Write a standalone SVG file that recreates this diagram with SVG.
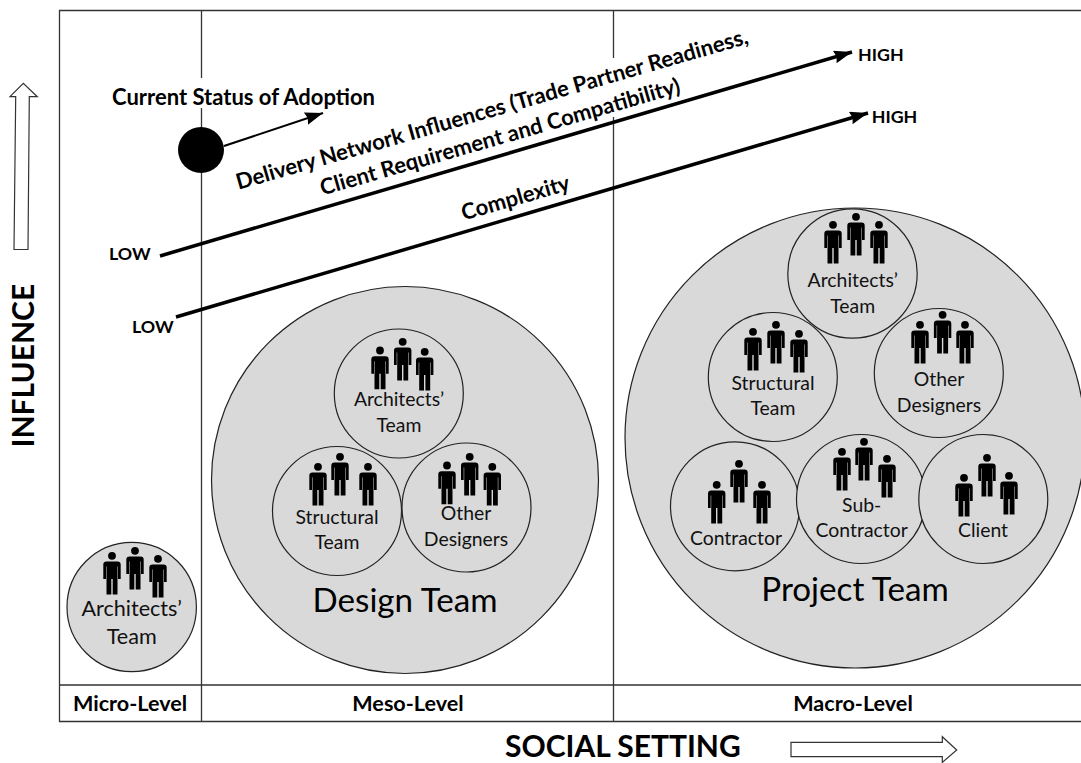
<svg xmlns="http://www.w3.org/2000/svg" width="1081" height="763" viewBox="0 0 1081 763">
<style>
text{font-family:"Lato","Carlito","Liberation Sans",sans-serif;fill:#000}
.b{font-weight:700}
.lvl{font-size:21.6px;font-weight:700;text-anchor:middle}
.lab{font-size:19.4px;text-anchor:middle;fill:#111}
.labm{font-size:21.6px;text-anchor:middle;fill:#111}
.big{font-size:33.2px;text-anchor:middle}
.hl{font-size:17.8px;font-weight:700}
.rot{font-size:22px;font-weight:700;text-anchor:middle}
.ax{font-size:30px;font-weight:700}
.c{fill:#d9d9d9;stroke:#222;stroke-width:1.2}
.f{stroke:#333;stroke-width:1.3;fill:none}
.ln{stroke:#000;fill:none}
.ho{fill:#fff;stroke:#333;stroke-width:1.2}
</style>
<defs>
<marker id="ah" markerUnits="userSpaceOnUse" markerWidth="20" markerHeight="14" refX="18" refY="6.5" orient="auto"><path d="M0,0L18,6.5L0,13L2,6.5z" fill="#000"/></marker>
<g id="p"><circle cx="0" cy="3.8" r="3.9" fill="#000"/><path d="M-5.5,9.5H5.5Q8.7,9.5 8.7,12.5V27H6V14.5H5.5V42.5H.7V27H-.7V42.5H-5.5V14.5H-6V27H-8.7V12.5Q-8.7,9.5 -5.5,9.5z" fill="#000"/></g>
</defs>
<rect width="1081" height="763" fill="#fff"/>
<g id="frame">
<path class="f" d="M1081,10.5H59.5V721.5H1081M59.5,685H1081M201.5,10.5V721.5M613.5,10.5V721.5"/>
</g>
<g id="connectors">
<rect x="108" y="78" width="272" height="30" fill="#fff"/>
<rect x="610" y="58" width="7" height="59" fill="#fff"/>
<path class="ln" stroke-width="2" marker-end="url(#ah)" d="M224,146L323,113"/>
<path class="ln" stroke-width="3.5" marker-end="url(#ah)" d="M160,256L852,52"/>
<path class="ln" stroke-width="3.5" marker-end="url(#ah)" d="M176,317L868,113"/>
<path class="ho" d="M14,249.5L15.7,96.7H10L23.3,83.3L37.3,96.7H29.3L28,249.5z"/>
<path class="ho" d="M791,742.3H942.3V736.7L956.7,750L942.3,762.4V756.7H791z"/>
</g>
<g id="status"><circle cx="201" cy="150" r="23" fill="#000"/><text x="112" y="105" class="b" font-size="22">Current Status of Adoption</text></g>
<g id="axis-labels">
<text x="505" y="757" class="ax">SOCIAL SETTING</text>
<text transform="translate(34,447.5) rotate(-90)" class="ax">INFLUENCE</text>
</g>
<g id="levels">
<text x="130" y="710.7" class="lvl">Micro-Level</text>
<text x="408" y="710.7" class="lvl">Meso-Level</text>
<text x="853" y="710.7" class="lvl">Macro-Level</text>
</g>
<g id="trend-labels">
<text x="109" y="260" class="hl">LOW</text>
<text x="132" y="333" class="hl">LOW</text>
<text x="858" y="61" class="hl">HIGH</text>
<text x="871.7" y="123" class="hl">HIGH</text>
<text transform="translate(494,116.5) rotate(-16)" class="rot">Delivery Network Influences (Trade Partner Readiness,</text>
<text transform="translate(502,144) rotate(-16)" class="rot">Client Requirement and Compatibility)</text>
<text transform="translate(517.5,205) rotate(-16)" class="rot">Complexity</text>
</g>
<g id="micro-architects"><circle class="c" cx="131.7" cy="607" r="64.7"/>
<use href="#p" x="112" y="552"/><use href="#p" x="135" y="547"/><use href="#p" x="158" y="555"/>
<text class="labm" x="131.7" y="616">Architects’</text><text class="labm" x="131.7" y="644">Team</text></g>
<g id="design-team"><circle class="c" cx="405" cy="480" r="193.5"/>
<text class="big" x="405" y="612">Design Team</text></g>
<g id="design-architects"><circle class="c" cx="398.8" cy="393.5" r="64.5"/>
<use href="#p" x="380" y="346.7"/><use href="#p" x="402.7" y="338"/><use href="#p" x="424.7" y="348"/>
<text class="lab" x="399" y="406">Architects’</text><text class="lab" x="399" y="431.7">Team</text></g>
<g id="design-structural"><circle class="c" cx="337" cy="511" r="64.5"/>
<use href="#p" x="318" y="463"/><use href="#p" x="340" y="453"/><use href="#p" x="368" y="463"/>
<text class="lab" x="337" y="524">Structural</text><text class="lab" x="337" y="549">Team</text></g>
<g id="design-other"><circle class="c" cx="466.5" cy="507.5" r="64.5"/>
<use href="#p" x="447" y="461.7"/><use href="#p" x="469.7" y="453"/><use href="#p" x="492.3" y="463"/>
<text class="lab" x="466" y="520">Other</text><text class="lab" x="466" y="546">Designers</text></g>
<g id="project-team"><circle class="c" cx="855" cy="438" r="230"/>
<text class="big" x="855" y="601">Project Team</text></g>
<g id="project-architects"><circle class="c" cx="852.5" cy="273.5" r="64.7"/>
<use href="#p" x="833" y="221"/><use href="#p" x="856" y="213"/><use href="#p" x="879" y="221"/>
<text class="lab" x="852.7" y="287">Architects’</text><text class="lab" x="852.7" y="312.7">Team</text></g>
<g id="project-structural"><circle class="c" cx="772.8" cy="377" r="64.5"/>
<use href="#p" x="753" y="328"/><use href="#p" x="776" y="321"/><use href="#p" x="799" y="330"/>
<text class="lab" x="773" y="390">Structural</text><text class="lab" x="773" y="415">Team</text></g>
<g id="project-other"><circle class="c" cx="938.8" cy="373" r="64.5"/>
<use href="#p" x="920" y="321"/><use href="#p" x="942.6" y="311"/><use href="#p" x="965" y="321"/>
<text class="lab" x="939" y="386">Other</text><text class="lab" x="939" y="411.7">Designers</text></g>
<g id="project-contractor"><circle class="c" cx="735" cy="506.3" r="64.5"/>
<use href="#p" x="716.7" y="481"/><use href="#p" x="739" y="460"/><use href="#p" x="762" y="481"/>
<text class="lab" x="736" y="545">Contractor</text></g>
<g id="project-subcontractor"><circle class="c" cx="861" cy="499" r="64.5"/>
<use href="#p" x="842" y="448"/><use href="#p" x="864" y="438"/><use href="#p" x="887" y="455"/>
<text class="lab" x="861.7" y="512">Sub-</text><text class="lab" x="861.7" y="537">Contractor</text></g>
<g id="project-client"><circle class="c" cx="983.3" cy="499" r="64.5"/>
<use href="#p" x="964" y="474"/><use href="#p" x="987" y="454"/><use href="#p" x="1009" y="472"/>
<text class="lab" x="983" y="537">Client</text></g>
</svg>
